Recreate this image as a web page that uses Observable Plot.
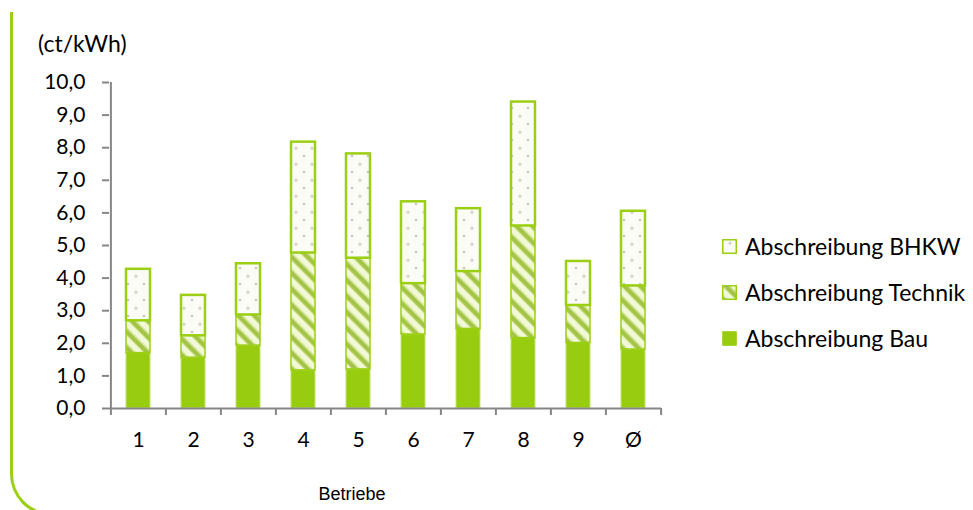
<!DOCTYPE html>
<html>
<head>
<meta charset="utf-8">
<script src="https://cdn.jsdelivr.net/npm/d3@7"></script>
<script src="https://cdn.jsdelivr.net/npm/@observablehq/plot@0.6"></script>
<style>
  html, body { margin: 0; padding: 0; background: #fff; overflow: hidden; }
  #wrap { position: relative; width: 973px; height: 510px; font-family: Lato, "Open Sans", sans-serif; color: #000; }
  #rahmen { position: absolute; left: 10px; top: 12px; width: 1000px; height: 504px; box-sizing: border-box;
            border-left: 3px solid #9bcf14; border-bottom: 3px solid #9bcf14; border-bottom-left-radius: 42px; }
  #einheit { position: absolute; left: 38px; top: 32px; font-size: 23px; line-height: 1; }
  #achse { position: absolute; left: 286px; width: 132px; top: 485px; text-align: center;
           font-family: "Liberation Sans", Arial, sans-serif; font-size: 18px; line-height: 1; }
  #legende { position: absolute; left: 722px; top: 223px; }
  .zeile { display: flex; align-items: center; height: 46px; font-size: 23px; }
  .zeile svg { margin-right: 8px; }
  #chart { position: absolute; left: 0; top: 0; }
</style>
</head>
<body>
<div id="wrap">
  <div id="rahmen"></div>
  <div id="chart"></div>
  <div id="einheit">(ct/kWh)</div>
  <div id="achse">Betriebe</div>
  <div id="legende"></div>
</div>
<script>
// Abschreibungskosten je Betrieb (ct/kWh), Ø = Mittelwert
const betriebe = ["1", "2", "3", "4", "5", "6", "7", "8", "9", "Ø"];
const bau      = [1.70, 1.56, 1.93, 1.17, 1.20, 2.27, 2.44, 2.16, 2.01, 1.81];
const technik  = [0.99, 0.67, 0.94, 3.60, 3.41, 1.56, 1.76, 3.44, 1.15, 1.95];
const bhkw     = [1.58, 1.24, 1.57, 3.40, 3.20, 2.51, 1.93, 3.80, 1.35, 2.29];
const yTicks   = [0, 1, 2, 3, 4, 5, 6, 7, 8, 9, 10];
const serien   = ["Abschreibung BHKW", "Abschreibung Technik", "Abschreibung Bau"];

const rows = betriebe.map((b, i) => ({ b, bau: bau[i], technik: technik[i], bhkw: bhkw[i] }));

const W = 973, H = 510, mL = 109, mR = 312, mT = 82, mB = 102;
const step = (W - mL - mR) / betriebe.length;
const gruen = "#9bcf14", grau = "#868686";
const fmt = d => d.toFixed(1).replace(".", ",");

const svg = Plot.plot({
  width: W, height: H,
  marginLeft: mL, marginRight: mR, marginTop: mT, marginBottom: mB,
  style: { fontFamily: "Lato, 'Open Sans', sans-serif", fontSize: "21px", color: "#000", background: "transparent", overflow: "visible" },
  x: { domain: betriebe, paddingInner: 0.565, paddingOuter: 0.2825, axis: null },
  y: { domain: [0, 10], axis: null },
  marks: [
    // gestapelte Säulen: Bau unten, Technik Mitte, BHKW oben
    Plot.barY(rows, { x: "b", y1: 0, y2: "bau", fill: "#98cd0f", stroke: "#c4e374", strokeWidth: 1 }),
    Plot.barY(rows, { x: "b", y1: "bau", y2: d => d.bau + d.technik, fill: "url(#streifen)", stroke: gruen, strokeWidth: 1.5 }),
    Plot.barY(rows, { x: "b", y1: d => d.bau + d.technik, y2: d => d.bau + d.technik + d.bhkw, fill: "url(#punkte)", stroke: gruen, strokeWidth: 2.5 }),
    // Achsenlinien
    Plot.ruleX([betriebe[0]], { x: d => d, y1: 0, y2: 10, dx: -step / 2, stroke: grau, strokeWidth: 2 }),
    Plot.ruleY([0], { stroke: grau, strokeWidth: 2 }),
    // y-Achse
    Plot.axisY({ ticks: yTicks, tickSize: 7, tickPadding: 17, tickFormat: fmt, stroke: grau, strokeWidth: 2, strokeOpacity: 1, label: null, fontSize: 21 }),
    // x-Striche an den Kategoriegrenzen
    Plot.axisX({ ticks: betriebe, tickSize: 7, dx: -step / 2, tickFormat: () => "", stroke: grau, strokeWidth: 2, strokeOpacity: 1, label: null }),
    Plot.axisX({ ticks: [betriebe[betriebe.length - 1]], tickSize: 7, dx: step / 2, tickFormat: () => "", stroke: grau, strokeWidth: 2, strokeOpacity: 1, label: null }),
    // x-Beschriftung
    Plot.axisX({ ticks: betriebe, tickSize: 0, tickPadding: 24, label: null, fontSize: 21 })
  ]
});

// Füllmuster
const defs = d3.select(svg).insert("defs", ":first-child");
const sw = 11.3;
const streifen = defs.append("pattern").attr("id", "streifen")
  .attr("patternUnits", "userSpaceOnUse").attr("width", sw).attr("height", sw)
  .attr("patternTransform", "rotate(-45)");
streifen.append("rect").attr("width", sw).attr("height", sw).attr("fill", "#f2f9d6");
streifen.append("rect").attr("x", 0).attr("width", 4.2).attr("height", sw).attr("fill", "#a3c447");
streifen.append("rect").attr("x", 4.2).attr("width", 1).attr("height", sw).attr("fill", "#cde08c");
streifen.append("rect").attr("x", sw - 1).attr("width", 1).attr("height", sw).attr("fill", "#cde08c");

const punkte = defs.append("pattern").attr("id", "punkte")
  .attr("patternUnits", "userSpaceOnUse").attr("width", 16).attr("height", 16);
punkte.append("rect").attr("width", 16).attr("height", 16).attr("fill", "#fbfcf6");
punkte.append("path").attr("d", "M8,2.5v3.4M6.3,4.2h3.4").attr("stroke", "#c6ccb2").attr("stroke-width", 1.1);
punkte.append("circle").attr("cx", 0.5).attr("cy", 12).attr("r", 0.8).attr("fill", "#aab29a");
punkte.append("circle").attr("cx", 15.5).attr("cy", 12).attr("r", 0.8).attr("fill", "#aab29a");

document.getElementById("chart").appendChild(svg);

// Legende
const swatch = {
  "Abschreibung BHKW":    { fill: "url(#punkte)",   stroke: gruen, sw: 1.5 },
  "Abschreibung Technik": { fill: "url(#streifen)", stroke: gruen, sw: 1.5 },
  "Abschreibung Bau":     { fill: "#98cd0f",        stroke: "#98cd0f", sw: 1 }
};
const leg = d3.select("#legende");
for (const s of serien) {
  const z = leg.append("div").attr("class", "zeile");
  const k = z.append("svg").attr("width", 15).attr("height", 15);
  k.append("rect").attr("x", 0.75).attr("y", 0.75).attr("width", 13.5).attr("height", 13.5)
    .attr("fill", swatch[s].fill).attr("stroke", swatch[s].stroke).attr("stroke-width", swatch[s].sw);
  z.append("span").text(s);
}
</script>
</body>
</html>
